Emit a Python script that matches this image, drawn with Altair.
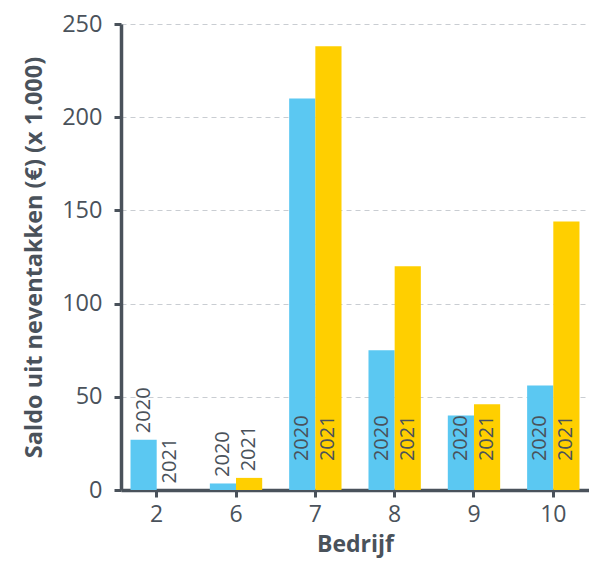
import altair as alt
import pandas as pd

bedrijven = ["2", "6", "7", "8", "9", "10"]
saldo_2020 = [27, 3.5, 210, 75, 40, 56]
saldo_2021 = [0, 6.5, 238, 120, 46, 144]
jaren = ["2020", "2021"]

rows = []
for i, b in enumerate(bedrijven):
    rows.append({"bedrijf": b, "jaar": "2020", "saldo": saldo_2020[i]})
    rows.append({"bedrijf": b, "jaar": "2021", "saldo": saldo_2021[i]})
df = pd.DataFrame(rows)

FONT = "Open Sans"
DARK = "#4a525b"

x_enc = alt.X("bedrijf:N", sort=bedrijven,
              scale=alt.Scale(paddingInner=0.34, paddingOuter=0.12),
              axis=alt.Axis(title="Bedrijf", labelAngle=0, labelFontSize=23,
                            labelColor=DARK, labelPadding=6, labelFont=FONT,
                            titleFont=FONT, titleFontSize=23, titleFontWeight="bold",
                            titleColor=DARK, titlePadding=7,
                            domainColor=DARK, domainWidth=3.5, tickColor=DARK,
                            tickWidth=3, tickSize=7, grid=False))

y_scale = alt.Scale(domain=[0, 250], nice=False)

y_enc = alt.Y("saldo:Q", scale=y_scale,
              axis=alt.Axis(title="Saldo uit neventakken (€) (x 1.000)",
                            values=[0, 50, 100, 150, 200, 250],
                            labelFontSize=23.5, labelColor=DARK, labelPadding=12,
                            labelFont=FONT, titleFont=FONT, titleFontSize=23.5,
                            titleFontWeight="bold", titleColor=DARK, titlePadding=15,
                            domainColor=DARK, domainWidth=3.5, tickColor=DARK,
                            tickWidth=3, tickSize=7, grid=True, gridColor="#c9cdd2",
                            gridDash=[5, 4], gridWidth=1))

base = alt.Chart(df)

bars = base.mark_bar().encode(
    x=x_enc,
    xOffset=alt.XOffset("jaar:N", sort=jaren),
    y=y_enc,
    color=alt.Color("jaar:N", scale=alt.Scale(domain=jaren, range=["#5bc8f2", "#ffcf00"]),
                    legend=None),
)

labels = base.transform_calculate(
    pos="datum.saldo < 30 ? datum.saldo + 3.5 : 15.5"
).mark_text(angle=270, align="left", baseline="middle", fontSize=20,
            font=FONT, color=DARK).encode(
    x=alt.X("bedrijf:N", sort=bedrijven),
    xOffset=alt.XOffset("jaar:N", sort=jaren),
    y=alt.Y("pos:Q", scale=y_scale),
    text="jaar:N",
)

chart = alt.layer(bars, labels).properties(
    width=468, height=466,
    autosize=alt.AutoSizeParams(type="none"),
    padding={"left": 113, "top": 16, "right": 0, "bottom": 71},
).configure_view(stroke=None)

chart.save("out.html", embed_options={"renderer": "svg", "actions": False})
